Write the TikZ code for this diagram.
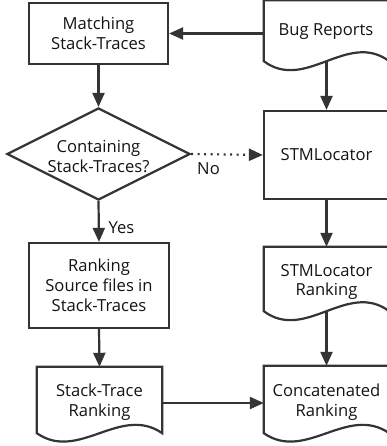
\documentclass[tikz,border=0pt]{standalone}
\usepackage{fontspec}
\setmainfont{Open Sans}
\usetikzlibrary{shapes.geometric,arrows.meta,calc}
\definecolor{lc}{RGB}{52,52,52}
\definecolor{tc}{RGB}{20,20,20}
\newcommand\docwave[2]{%
  \draw[outl] (#1.south west)
    .. controls ($(#1.south west)!1/3!(#1.south east)+(0,#2)$)
    and ($(#1.south west)!2/3!(#1.south east)+(0,-#2)$) .. (#1.south east)
    -- (#1.north east) -- (#1.north west) -- cycle;}
\begin{document}
\begin{tikzpicture}[x=1pt,y=-1pt,
  txt/.style={text=tc,align=center,inner sep=0pt,font=\fontsize{16.6}{19.8}\selectfont},
  outl/.style={draw=lc,line width=2.2pt,fill=white,line join=miter},
  boxn/.style={txt,outl,rectangle},
  docn/.style={txt,rectangle,minimum width=125pt},
  arr/.style={draw=lc,line width=2.2pt,-{Triangle[length=14pt,width=12pt]}},
  lbl/.style={text=tc,inner sep=0pt,font=\fontsize{16.6}{19}\selectfont}]
\clip (0,0) rectangle (387,446);
\useasboundingbox (0,0) rectangle (387,446);
\fill[white] (0,0) rectangle (387,446);

% nodes
\node[boxn,minimum width=139pt,minimum height=61pt] (match) at (98.5,33.5) {Matching\\Stack-Traces};
\node[docn,minimum height=60.5pt] (bug) at (326.5,30.75) {};
\node[outl,diamond,inner sep=0pt,minimum width=183pt,minimum height=92pt,aspect=2] (dia) at (98.5,154) {};
\node[txt] (diatxt) at (98.5,156.5) {Containing\\Stack-Traces?};
\node[boxn,minimum width=125pt,minimum height=88pt] (stm) at (326.5,155) {STMLocator};
\node[boxn,minimum width=140pt,minimum height=85pt] (rank) at (99,285.5) {Ranking\\Source files in\\Stack-Traces};
\node[docn,minimum height=66pt] (strank) at (99.5,400) {};
\node[docn,minimum height=64pt] (stmrank) at (326.5,279) {};
\node[docn,minimum height=67pt] (concat) at (326.5,399.5) {};

\docwave{bug}{31}
\docwave{strank}{29}
\docwave{stmrank}{31}
\docwave{concat}{29}

\node[txt] (bugtxt) at (326,32) {Bug Reports};
\node[txt] (strtxt) at (99.5,402) {Stack-Trace\\Ranking};
\node[txt] (stmrtxt) at (326.5,282) {STMLocator\\Ranking};
\node[txt] (cctxt) at (326.5,402) {Concatenated\\Ranking};

% connectors
\draw[arr] (bug.west |- match.east) -- (match.east);
\draw[arr] (match.south) -- (dia.north);
\draw[arr] (bug.south) -- (stm.north);
\draw[arr,dash pattern=on 2pt off 4.5pt] (dia.east) -- (stm.west);
\draw[arr] (dia.south) -- (rank.north);
\draw[arr] (stm.south) -- (stmrank.north);
\draw[arr] (rank.south) -- (strank.north);
\draw[arr] (stmrank.south) -- (concat.north);
\draw[arr] ([yshift=-3pt]strank.east) -- ([yshift=-3pt]strank.east -| concat.west);

\node[lbl] (nolbl) at (208.5,169) {No};
\node[lbl] (yeslbl) at (121.5,227.5) {Yes};
\end{tikzpicture}
\end{document}
